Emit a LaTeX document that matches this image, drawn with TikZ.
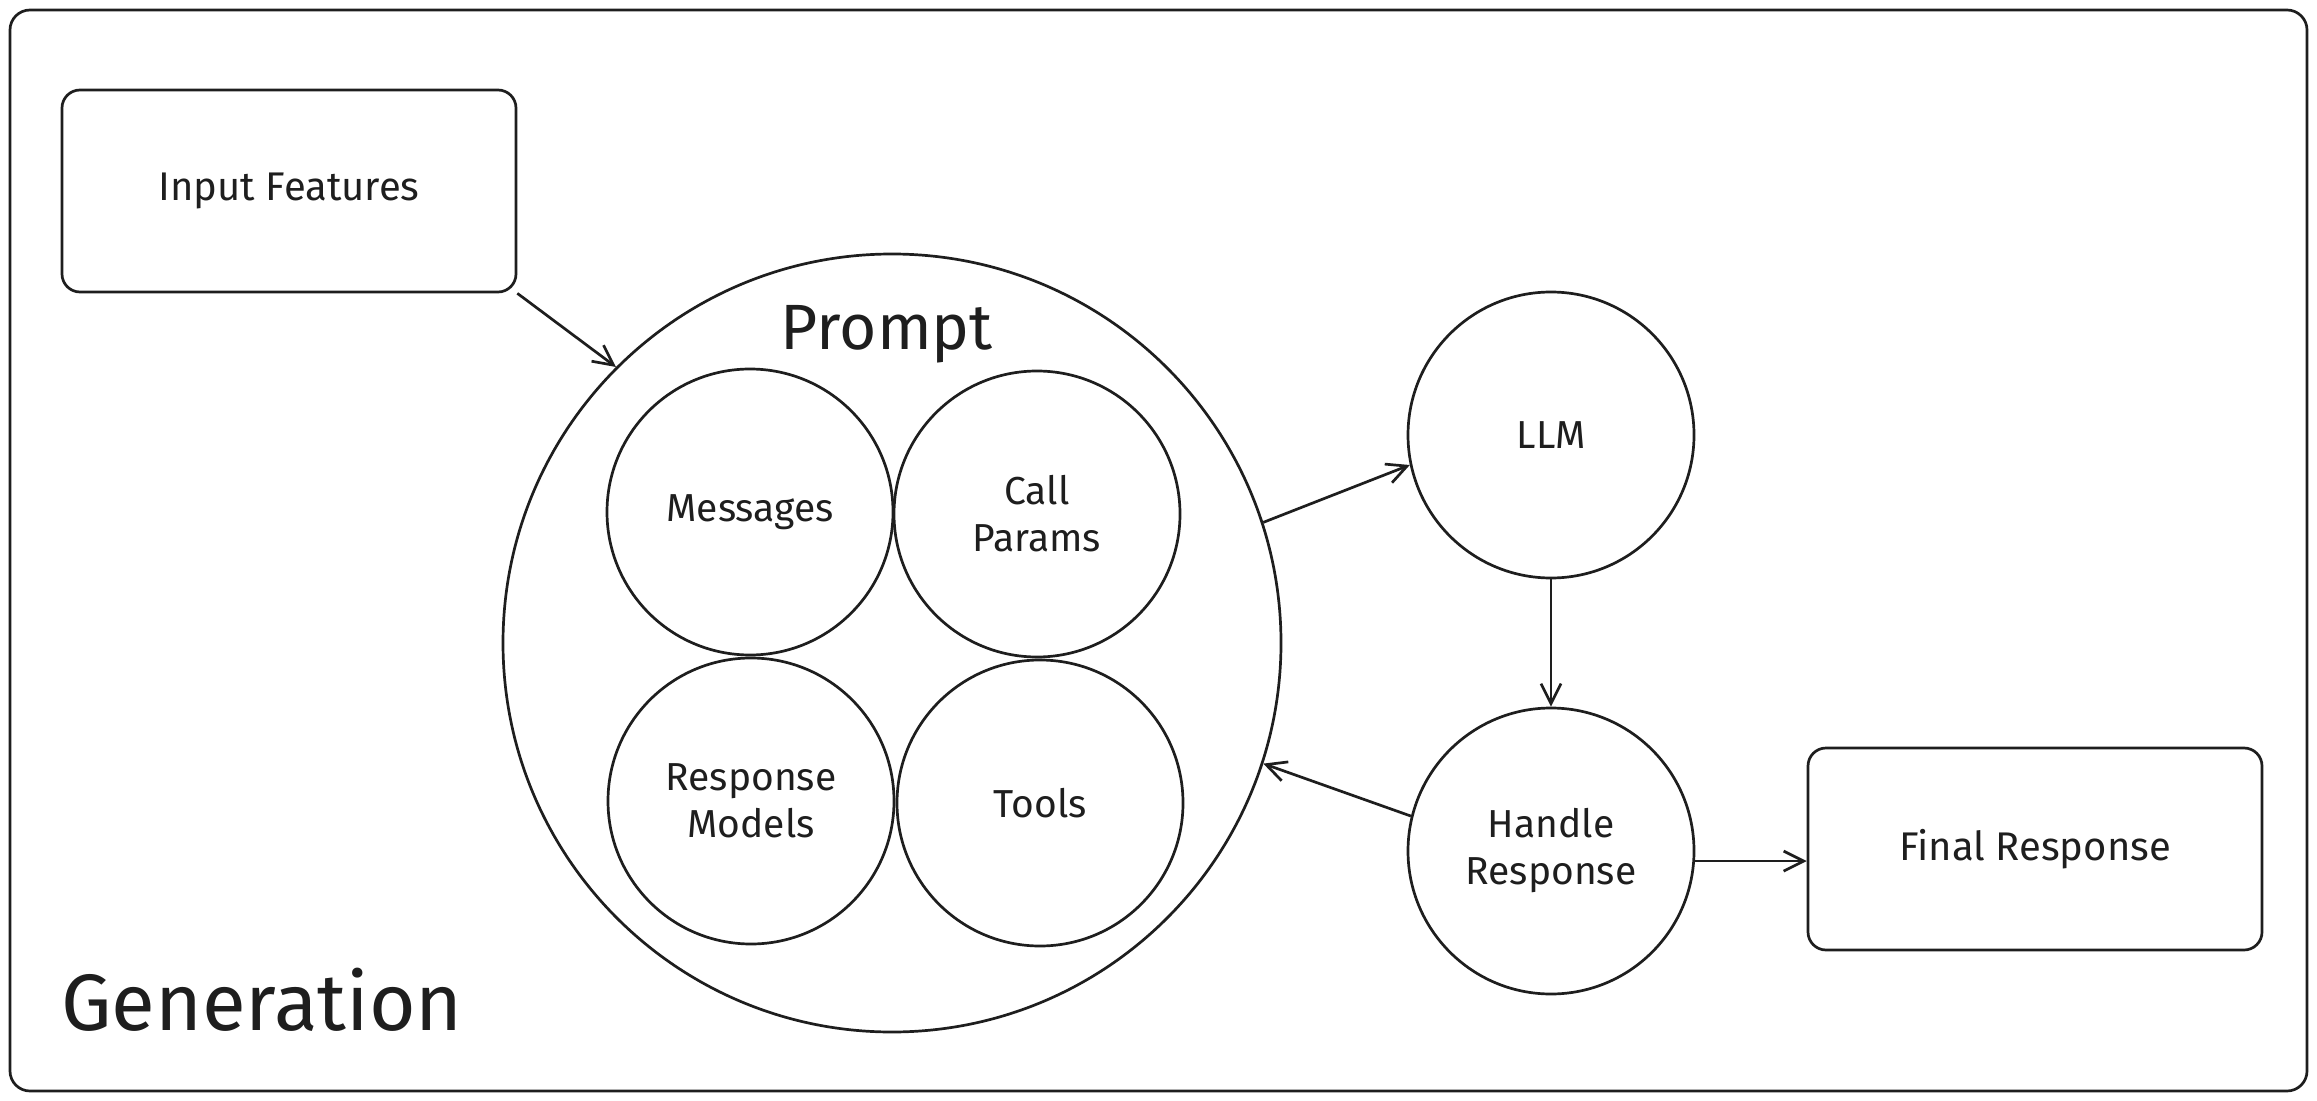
\documentclass[tikz,border=0pt]{standalone}
\usepackage{fontspec}
\setmainfont{Fira Sans}
\usetikzlibrary{arrows.meta}
\definecolor{ink}{RGB}{30,30,30}

\begin{document}
\begin{tikzpicture}[x=0.5pt,y=0.5pt,yscale=-1,xscale=1,color=ink,line width=1.35pt,
	bubble/.style={circle,draw,minimum size=143pt,inner sep=0pt,align=center,font=\fontsize{19.5}{23.5}\selectfont},
	card/.style={draw,rounded corners=9pt,minimum width=227pt,minimum height=101pt,inner sep=0pt,font=\fontsize{20}{23.5}\selectfont},
	flow/.style={-{Straight Barb[length=10pt,width=10pt]}}]
				\useasboundingbox (0,0) rectangle (2317,1101);
				
				%Shape: Rounded Rect [frame]
				\draw [rounded corners=10pt] (10,10) rectangle (2307,1091);
				
				%Shape: Rounded Rect [input]
				\node [card] (input) at (289,191) {Input Features};
				%Shape: Rounded Rect [final]
				\node [card] (final) at (2035,849) {Final Response};
				
				%Shape: Circle [prompt]
				\node [circle,draw,minimum size=389pt,inner sep=0pt] (prompt) at (892,643) {};
				% Text Node
				\node [inner sep=0pt,font=\fontsize{32}{36}\selectfont] (promptlabel) at (887,334) {Prompt};
				
				%Shape: Circle [inner four]
				\node [bubble] (messages) at (750,512) {Messages};
				\node [bubble] (params) at (1037,514) {Call\\Params};
				\node [bubble] (models) at (751,801) {Response\\Models};
				\node [bubble] (tools) at (1040,803) {Tools};
				
				%Shape: Circle [llm]
				\node [bubble] (llm) at (1551,435) {LLM};
				%Shape: Circle [handle]
				\node [bubble] (handle) at (1551,851) {Handle\\Response};
				
				%Straight Lines
				\draw [flow] (input.south east) -- (prompt.135);
				%Straight Lines
				\draw [flow] (prompt.18.8) -- (llm.192.9);
				%Straight Lines
				\draw [flow] (llm.south) -- (handle.north);
				%Straight Lines
				\draw [flow] (handle.166.4) -- (prompt.-18.5);
				%Straight Lines
				\draw [flow] (handle.-4) -- (handle.-4 -| final.west);
				
				% Text Node
				\node [anchor=base west,inner sep=0pt,font=\fontsize{40}{44}\selectfont] (title) at (60,1030) {Generation};
				
\end{tikzpicture}
\end{document}
